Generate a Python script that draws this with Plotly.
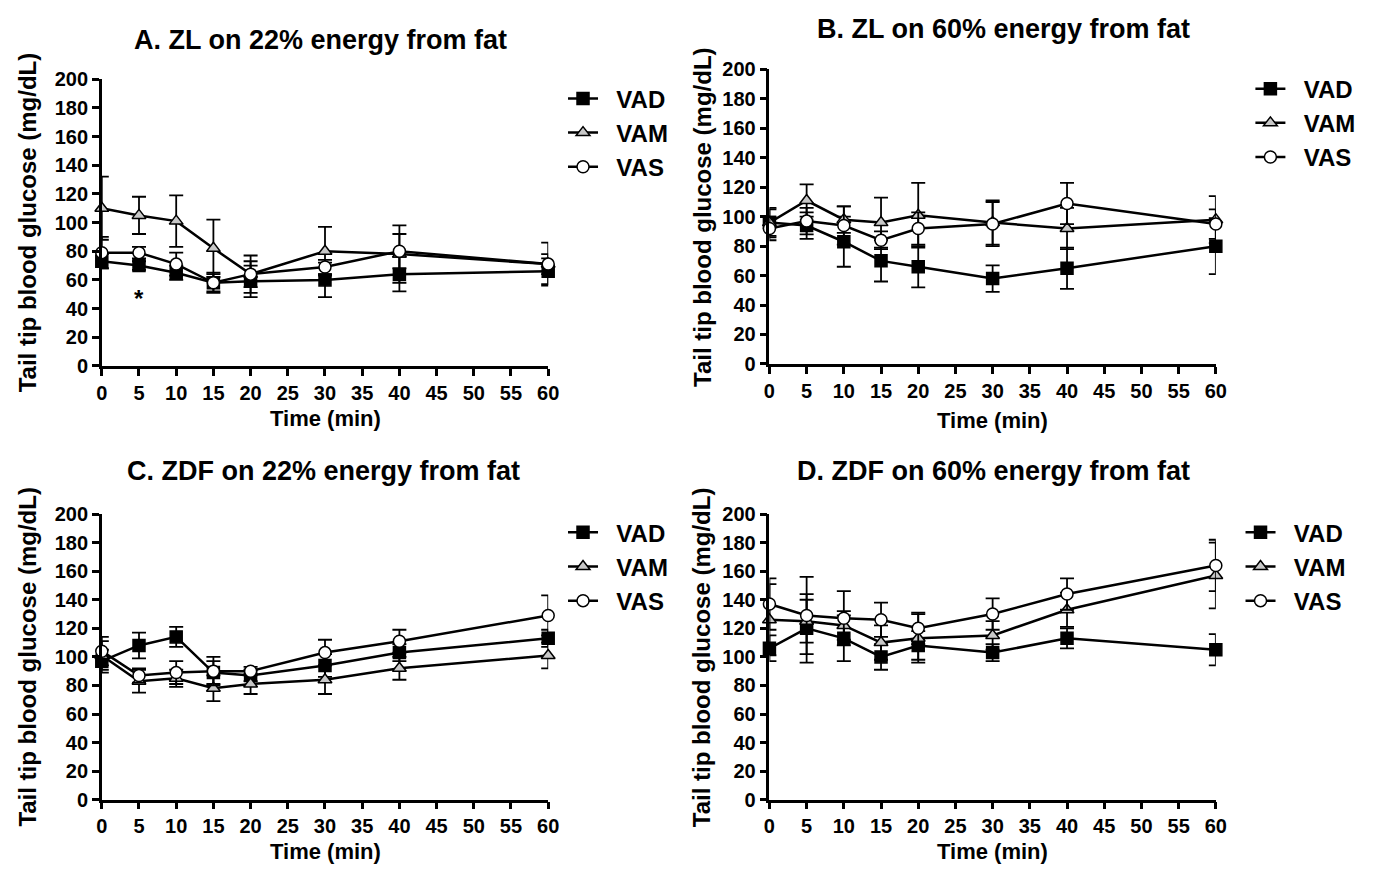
import plotly.graph_objects as go

W, H = 1373, 877

times = [0, 5, 10, 15, 20, 30, 40, 60]
groups = ["VAD", "VAM", "VAS"]
panel_titles = ["A. ZL on 22% energy from fat", "B. ZL on 60% energy from fat",
                "C. ZDF on 22% energy from fat", "D. ZDF on 60% energy from fat"]

A_VAD = [73, 70, 65, 58, 59, 60, 64, 66]
A_VAD_err = [5, 3, 5, 7, 11, 12, 12, 9]
A_VAM = [110, 105, 101, 82, 64, 80, 78, 71]
A_VAM_err = [22, 13, 18, 20, 13, 17, 20, 15]
A_VAS = [79, 79, 71, 58, 64, 69, 80, 71]
A_VAS_err = [11, 4, 8, 6, 9, 5, 12, 7]

B_VAD = [96, 94, 83, 70, 66, 58, 65, 80]
B_VAD_err = [10, 9, 17, 14, 14, 9, 14, 19]
B_VAM = [96, 111, 98, 96, 101, 96, 92, 98]
B_VAM_err = [9, 11, 9, 17, 22, 15, 14, 16]
B_VAS = [92, 97, 94, 84, 92, 95, 109, 95]
B_VAS_err = [8, 9, 13, 6, 11, 15, 14, 10]

C_VAD = [97, 108, 114, 89, 87, 94, 103, 113]
C_VAD_err = [8, 9, 7, 8, 4, 8, 6, 6]
C_VAM = [101, 83, 85, 78, 81, 84, 92, 101]
C_VAM_err = [10, 8, 6, 9, 7, 10, 8, 9]
C_VAS = [104, 87, 89, 90, 90, 103, 111, 129]
C_VAS_err = [10, 5, 8, 10, 3, 9, 8, 14]

D_VAD = [106, 120, 113, 100, 108, 103, 113, 105]
D_VAD_err = [9, 24, 16, 9, 10, 6, 7, 11]
D_VAM = [126, 125, 122, 110, 113, 115, 133, 157]
D_VAM_err = [25, 15, 10, 12, 17, 10, 12, 23]
D_VAS = [137, 129, 127, 126, 120, 130, 144, 164]
D_VAS_err = [18, 27, 19, 12, 11, 11, 11, 18]

panels = [
    {"VAD": (A_VAD, A_VAD_err), "VAM": (A_VAM, A_VAM_err), "VAS": (A_VAS, A_VAS_err)},
    {"VAD": (B_VAD, B_VAD_err), "VAM": (B_VAM, B_VAM_err), "VAS": (B_VAS, B_VAS_err)},
    {"VAD": (C_VAD, C_VAD_err), "VAM": (C_VAM, C_VAM_err), "VAS": (C_VAS, C_VAS_err)},
    {"VAD": (D_VAD, D_VAD_err), "VAM": (D_VAM, D_VAM_err), "VAS": (D_VAS, D_VAS_err)},
]

# pixel boxes of each plot area: (left, right, top, bottom)
boxes = [(97, 549, 70, 364), (773, 1225, 60, 362), (97, 549, 516, 809), (773, 1225, 516, 809)]
legend_pos = [(564, 67), (1260, 57), (564, 512), (1250, 512)]
title_pos = [(318, 30), (1010, 18), (321, 472), (1000, 472)]
xtitle_y = [418, 420, 862, 862]
ytitle_x = [22, 705, 22, 705]

FONT = "Liberation Sans Narrow, Liberation Sans, Arial, sans-serif"
styles = {
    "VAD": dict(symbol="square", color="black", line=dict(color="black", width=1.5), size=12),
    "VAM": dict(symbol="triangle-up", color="#c8c8c8", line=dict(color="black", width=1.5), size=12),
    "VAS": dict(symbol="circle", color="white", line=dict(color="black", width=1.5), size=12),
}

fig = go.Figure()
layout = {}
annotations = []
for i, (panel, box) in enumerate(zip(panels, boxes)):
    k = "" if i == 0 else str(i + 1)
    l, r, t, b = box
    xd = [l / W, r / W]
    yd = [1 - b / H, 1 - t / H]
    axis_common = dict(showline=True, linecolor="black", linewidth=2.5, ticks="outside",
                       ticklen=7, tickwidth=2.5, tickcolor="black", showgrid=False, zeroline=False,
                       tickfont=dict(family=FONT, size=20, color="black", weight="bold"))
    layout["xaxis" + k] = dict(domain=xd, range=[0, 60], tick0=0, dtick=5, anchor="y" + k, **axis_common)
    layout["yaxis" + k] = dict(domain=yd, range=[0, 200], tick0=0, dtick=20, anchor="x" + k, **axis_common)
    leg = "legend" if i == 0 else "legend" + str(i + 1)
    lx, ly = legend_pos[i]
    layout[leg] = dict(x=lx / W, y=1 - ly / H, xanchor="left", yanchor="top", bgcolor="rgba(0,0,0,0)",
                       font=dict(family="Liberation Sans, Arial", size=24, color="black", weight="bold"),
                       itemwidth=30, tracegroupgap=0)
    for g in groups:
        vals, errs = panel[g]
        fig.add_trace(go.Scatter(
            x=times, y=vals, name="\u00a0\u00a0" + g, mode="lines+markers",
            line=dict(color="black", width=2.5), marker=styles[g],
            error_y=dict(type="data", array=errs, visible=True, color="black", thickness=1.8, width=7),
            xaxis="x" + k, yaxis="y" + k, legend=leg, cliponaxis=False,
        ))
    tx, ty = title_pos[i]
    annotations.append(dict(text="<b>" + panel_titles[i] + "</b>", x=tx / W, y=1 - ty / H,
                            xref="paper", yref="paper", showarrow=False, xanchor="center", yanchor="middle",
                            font=dict(family="Liberation Sans, Arial", size=27, color="black")))
    annotations.append(dict(text="<b>Time (min)</b>", x=(l + r) / 2 / W, y=1 - xtitle_y[i] / H,
                            xref="paper", yref="paper", showarrow=False, xanchor="center", yanchor="middle",
                            font=dict(family="Liberation Sans, Arial", size=22, color="black")))
    annotations.append(dict(text="<b>Tail tip blood glucose (mg/dL)</b>", x=ytitle_x[i] / W,
                            y=1 - (t + b) / 2 / H, xref="paper", yref="paper", showarrow=False,
                            textangle=-90, xanchor="center", yanchor="middle",
                            font=dict(family="Liberation Sans, Arial", size=24, color="black")))

annotations.append(dict(text="<b>*</b>", x=5, y=47, xref="x", yref="y", showarrow=False,
                        font=dict(family="Liberation Sans, Arial", size=24, color="black")))

fig.update_layout(autosize=True, margin=dict(l=0, r=0, t=0, b=0),
                  paper_bgcolor="white", plot_bgcolor="white",
                  annotations=annotations, **layout)
fig.write_html("out.html", default_width="100vw", default_height="100vh",
               config={"displayModeBar": False},
               post_script="document.documentElement.style.margin='0';document.body.style.margin='0';"
                           "document.body.style.overflow='hidden';document.documentElement.style.overflow='hidden';")
